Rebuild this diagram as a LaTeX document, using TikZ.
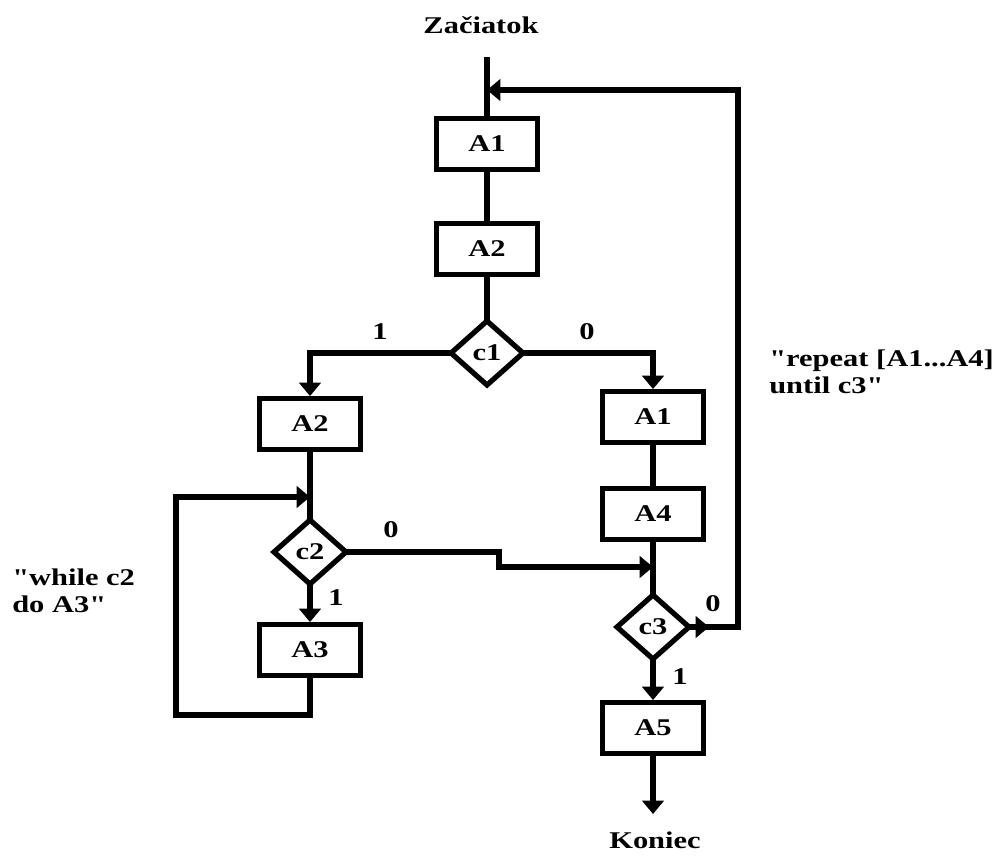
\documentclass[tikz,border=0pt]{standalone}
\usepackage{fontspec}
\newfontfamily\ff[FakeStretch=1.27]{Liberation Serif}
\usetikzlibrary{shapes.geometric,arrows.meta}
\begin{document}
\begin{tikzpicture}[x=0.75pt,y=-0.75pt,
  every node/.style={font=\ff\bfseries\fontsize{18pt}{20pt}\selectfont},
  line/.style={line width=3.9pt,line join=miter,line cap=butt},
  arr/.style={line,-{Triangle[length=10pt,width=16pt]}},
  box/.style={draw,line width=3.9pt,minimum width=75.5pt,minimum height=38pt,inner sep=0pt},
  dec/.style={draw,diamond,line width=3.9pt,minimum width=54pt,minimum height=48pt,inner sep=0pt,outer sep=0pt},
  lbl/.style={inner sep=0pt},
  txt/.style={inner sep=0pt,align=left,anchor=west}]
\useasboundingbox (0,0) rectangle (1003,856);
% nodes
\node[lbl] (start) at (481,25) {Začiatok};
\coordinate (top) at (487,57);
\node[box] (A1) at (487,144) {A1};
\node[box] (A2) at (487,249) {A2};
\node[dec] (c1) at (487,353) {c1};
\node[box] (L2) at (310,424) {A2};
\node[dec] (c2) at (310,552) {c2};
\node[box] (A3) at (310,650) {A3};
\node[box] (R1) at (653,417) {A1};
\node[box] (A4) at (653,514) {A4};
\node[dec] (c3) at (653,627) {c3};
\node[box] (A5) at (653,728) {A5};
\coordinate (bot) at (653,814);
\node[lbl] (end) at (655,840) {Koniec};
% coordinates for connectors
\coordinate (mj) at (487,90);
\coordinate (rt) at (738,90);
\coordinate (rb) at (738,627);
\coordinate (c3a) at (709,627);
\coordinate (c3b) at (700,627);
\coordinate (lb) at (176,715);
\coordinate (lt) at (176,497);
\coordinate (lj) at (310,497);
\coordinate (s1) at (499,552);
\coordinate (s2) at (499,567);
\coordinate (j2) at (653,567);
% connectors
\draw[line] (top) -- (A1.north);
\draw[line] (A1.south) -- (A2.north);
\draw[line] (A2.south) -- (c1.north);
\draw[arr] (c1.west) -| (L2.north);
\draw[arr] (c1.east) -| (R1.north);
\draw[line] (L2.south) -- (c2.north);
\draw[arr] (c2.south) -- (A3.north);
\draw[arr] (A3.south) |- (lb) -- (lt) -- (lj);
\draw[arr] (c2.east) -- (s1) -- (s2) -- (j2);
\draw[line] (R1.south) -- (A4.north);
\draw[line] (A4.south) -- (c3.north);
\draw[arr] (c3.south) -- (A5.north);
\draw[arr] (A5.south) -- (bot);
\draw[arr] (c3b) -- (rb) -- (rt) -- (mj);
\draw[arr] (c3.east) -- (c3a);
% labels
\node[lbl] (l1) at (380,332) {1};
\node[lbl] (l0) at (587,332) {0};
\node[lbl] (l2a) at (391,530) {0};
\node[lbl] (l2b) at (336,598) {1};
\node[lbl] (l3a) at (713,604) {0};
\node[lbl] (l3b) at (680,677) {1};
\node[txt] (wh) at (12,591) {"while c2\\do A3"};
\node[txt] (rp) at (769,372) {"repeat [A1...A4]\\until c3"};
\end{tikzpicture}
\end{document}
